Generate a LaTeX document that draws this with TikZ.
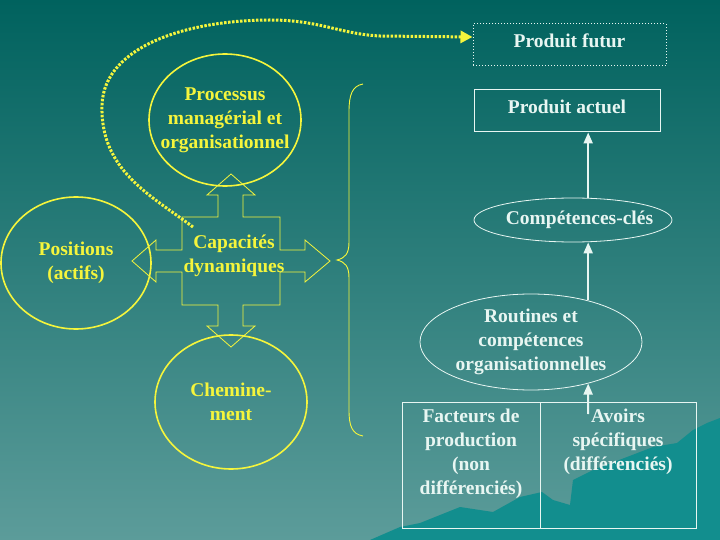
\documentclass[tikz,border=0pt]{standalone}
\usepackage{fontspec}
\setmainfont{Liberation Serif}
\usetikzlibrary{shapes.geometric,arrows.meta}

\definecolor{bgtop}{RGB}{0,98,94}
\definecolor{bgbot}{RGB}{92,156,154}
\definecolor{colline}{RGB}{18,142,142}
\definecolor{jaune}{RGB}{245,245,60}
\definecolor{blanc}{RGB}{232,246,242}

\begin{document}
\begin{tikzpicture}[x=1pt, y=-1pt,
    every node/.style={font=\bfseries\fontsize{19.5}{24}\selectfont, align=center},
    cercle/.style={draw=jaune, line width=1.6pt, ellipse, text=jaune, inner sep=0pt},
    bulle/.style={draw=blanc, line width=0.8pt, ellipse, text=blanc, inner sep=0pt},
    boite/.style={draw=blanc, line width=1pt, text=blanc},
    fleche/.style={draw=blanc, line width=2pt, -{Triangle[width=9pt,length=11pt]}},
  ]
    \useasboundingbox (0,0) rectangle (720,540);

    % Fond
    \shade[top color=bgtop, bottom color=bgbot] (0,0) rectangle (720,540);
    \fill[colline] (370,540) -- (400,527) -- (420,523) -- (460,507) -- (493,512)
      -- (520,497) -- (542,492) -- (553,500) -- (570,505) -- (573,480) -- (593,470)
      -- (627,457) -- (653,447) -- (677,443) -- (693,430) -- (707,423) -- (720,418)
      -- (720,540) -- cycle;

    % Produits
    \node[boite, dotted, minimum width=193pt, minimum height=42pt, text depth=8pt] (futur) at (569.5,45) {Produit futur};
    \node[boite, minimum width=186pt, minimum height=42pt, text depth=8pt] (actuel) at (567,111) {Produit actuel};

    % Competences et routines
    \node[bulle, inner xsep=-12pt, minimum width=198pt, minimum height=44pt] (competences) at (573,220) {\hspace*{13pt}Compétences-clés};
    \node[bulle, minimum width=222pt, minimum height=96pt] (routines) at (531,342) {Routines et\\compétences\\organisationnelles};

    % Ressources
    \node[boite, minimum width=294pt, minimum height=126pt] (ressources) at (549,465) {};
    \draw[blanc, line width=1pt] (540,402) -- (540,528);
    \node[text=blanc] (facteurs) at (471,454) {Facteurs de\\production\\(non\\différenciés)};
    \node[text=blanc] (avoirs) at (618,442) {Avoirs\\spécifiques\\(différenciés)};
    \coordinate (depart) at (588,414);

    \draw[fleche] (depart) -- (routines.-36);
    \draw[fleche] (routines.36) -- (routines.36 |- competences.south);
    \draw[fleche] (routines.36 |- competences.north) -- (routines.36 |- actuel.south);

    % Cote gauche
    \node[cercle, inner xsep=-11pt, minimum width=152pt, minimum height=132pt] (processus) at (225,120) {Processus\\managérial et\\organisationnel};
    \node[cercle, minimum width=150pt, minimum height=132pt] (positions) at (76,263) {Positions\\(actifs)};
    \node[cercle, minimum width=152pt, minimum height=134pt] (cheminement) at (231,402) {Chemine-\\ment};

    % Croix
    \draw[jaune, line width=0.8pt] (231,174) -- (255,195) -- (243,195) -- (243,217) -- (280,217)
      -- (280,250) -- (305,250) -- (305,240) -- (330,261) -- (305,282) -- (305,272) -- (280,272)
      -- (280,305) -- (243,305) -- (243,326) -- (255,326) -- (231,347) -- (207,326) -- (218,326)
      -- (218,305) -- (182,305) -- (182,272) -- (156,272) -- (156,282) -- (132,261) -- (156,240)
      -- (156,250) -- (182,250) -- (182,217) -- (218,217) -- (218,195) -- (207,195) -- cycle;
    \node[text=jaune] (capacites) at (234,256) {Capacités\\dynamiques};

    % Accolade
    \draw[jaune, line width=0.9pt] (363,84) .. controls (352,86) and (349,95) .. (349,112)
      -- (349,242) .. controls (349,254) and (345,258) .. (337,260)
      .. controls (345,262) and (349,266) .. (349,278)
      -- (349,410) .. controls (349,426) and (352,434) .. (363,436);

    % Boucle vers le produit futur
    \coordinate (boucle) at (193,227);
    \draw[jaune, line width=3pt, dash pattern=on 2.5pt off 1.5pt, -{Triangle[width=12pt,length=12pt]}]
      (boucle) .. controls (150,195) and (100,170) .. (102,105)
      .. controls (104,45) and (190,20) .. (270,20)
      .. controls (320,20) and (340,34) .. (380,36) -- ([yshift=8pt]futur.west);
  \end{tikzpicture}
\end{document}
